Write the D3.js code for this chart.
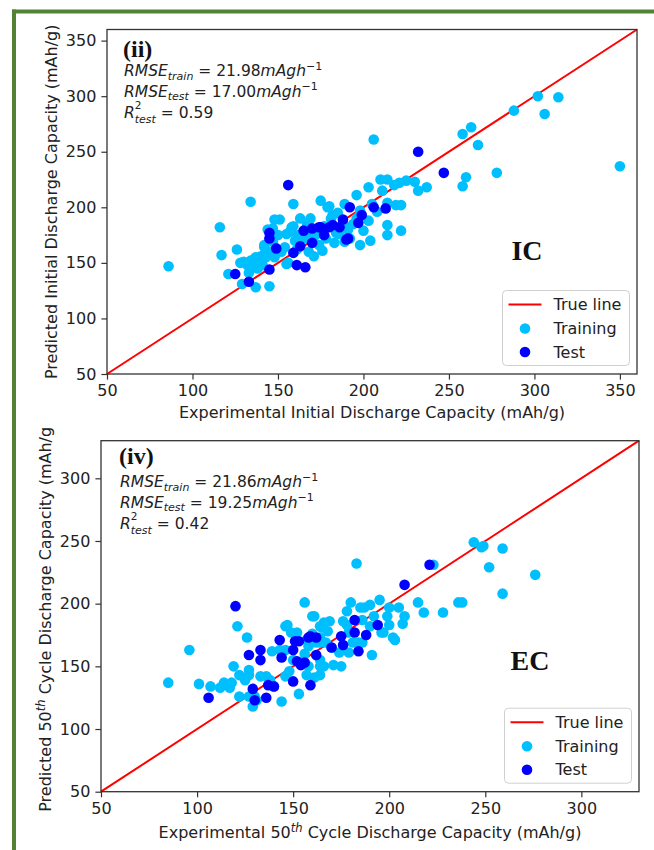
<!DOCTYPE html>
<html>
<head>
<meta charset="utf-8">
<script src="https://cdn.jsdelivr.net/npm/d3@7"></script>
<style>
  body { margin: 0; background: #fff; }
  svg { display: block; }
</style>
</head>
<body>
<div id="chart"></div>
<script>
// Datos: panel IC (capacidad inicial)
const icTrain = [
  [86,147],[116,182],[117,157],[121,140],[126,162],[129,131],[134,205],[137,128],[145,129],
  [130,151],[134,152],[137,155],[139,151],[135,146],[132,148],[141,148],[138,145],[143,155],
  [142,164],[144,180],[147,169],[148,189],[151,189],[147,181],[142,166],
  [159,203],[155,176],[154,164],[155,149],[158,182],[160,170],[157,178],[159,183],[156,150],
  [169,190],[179,200],[182,193],[174,166],[171,156],[176,161],[165,172],[168,160],[172,175],
  [167,185],[178,172],[183,168],[181,190],[186,176],[189,169],[185,195],[188,186],[191,180],
  [194,185],[198,166],[204,170],[203,188],[180,201],[175,206],[189,203],[196,211],[205,203],
  [214,204],[219,202],[222,202],[222,179],[214,184],[214,175],
  [206,261],[210,225],[214,225],[221,222],[225,224],[230,223],[211,215],[203,218],[232,215],
  [237,218],[218,220],
  [258,266],[263,272],[267,256],[278,231],[258,219],[260,227],[288,287],[302,300],[314,299],
  [306,284],[350,237],
  [163,190],[170,176],[161,162],[177,183],[184,177],[192,172],[196,190],[200,179],[208,196],
  [198,197],[162,175],[152,160],[148,155],[145,160],[140,156],[133,141],[128,150],[150,175]
];
const icTest = [
  [125,140],[133,133],[145,177],[145,172],[149,163],[145,144],[156,220],[159,159],[161,148],
  [166,146],[163,165],[165,179],[170,181],[175,182],[180,182],[170,168],[232,250],[247,231],
  [192,200],[199,193],[206,200],[213,199],[188,189],[182,184],[191,172],[177,175],[186,182],
  [190,171],[174,182],[197,186]
];

// Datos: panel EC (capacidad en el ciclo 50)
const ecTrain = [
  [85,137],[96,163],[101,136],[121,182],[126,173],[119,150],[127,147],[122,143],[127,143],
  [117,133],[112,133],[114,137],[107,134],[122,126],[127,126],[131,123],[129,118],[144,122],
  [143,163],[139,162],[136,142],[133,142],[138,139],[146,182],[149,177],[146,163],[148,146],
  [146,142],[156,201],[161,190],[164,182],[166,185],[164,169],[158,166],[158,150],[164,143],
  [161,141],[166,150],[164,155],[160,190],[147,183],[152,177],[157,171],[162,169],
  [180,201],[185,197],[190,199],[195,203],[200,197],[205,197],[208,190],[215,201],[218,193],
  [228,193],[236,201],[192,190],[186,187],[178,194],[169,186],[165,181],[164,173],[167,169],
  [197,177],[202,173],[179,177],[176,186],[191,159],[184,169],[179,161],[171,151],[164,150],
  [157,143],[183,232],[223,231],[244,249],[248,245],[249,246],[259,244],[252,229],[276,223],
  [259,208],[238,201],[207,184],[203,171],[196,177],[200,183],[199,190],[187,197],[174,161],
  [181,169],[186,169],[153,128],[140,134],[130,126],[125,139],[118,137],[150,155],[170,165],
  [175,150],[168,178],[178,183],[190,182],[156,160],[160,176]
];
const ecTest = [
  [106,125],[120,198],[127,159],[133,163],[133,155],[129,132],[130,123],[136,125],[137,135],
  [140,134],[143,171],[144,157],[150,163],[150,138],[152,154],[154,151],[159,135],[159,174],
  [162,173],[162,159],[151,170],[182,187],[182,177],[188,175],[194,183],[184,162],[176,167],
  [170,165],[158,173],[153,170],[156,153],[175,174],[221,231],[208,215]
];

// Ejes y textos
const icTicks = [50, 100, 150, 200, 250, 300, 350];
const ecTicks = [50, 100, 150, 200, 250, 300];
const icDomain = [50, 360];
const ecDomain = [50, 330];
const legendLabels = ["True line", "Training", "Test"];
const icStats = { tag: "(ii)", train: "21.98", test: "17.00", r2: "0.59", name: "IC" };
const ecStats = { tag: "(iv)", train: "21.86", test: "19.25", r2: "0.42", name: "EC" };

const width = 654;
const height = 850;
const colTrain = "#00bfff";
const colTest = "#0000ff";
const colText = "#222";
const fontSans = "DejaVu Sans, sans-serif";
const fontSerif = "Liberation Serif, Times New Roman, serif";

const svg = d3.select("#chart")
  .append("svg")
  .attr("width", width)
  .attr("height", height);

svg.append("rect").attr("width", width).attr("height", height).attr("fill", "#fff");

// escribe piezas de texto una detras de otra (texto matematico simple)
function mathText(g, x, y, pieces) {
  let cx = x;
  let stackW = 0;
  pieces.forEach(p => {
    const t = g.append("text")
      .attr("x", cx)
      .attr("y", y + (p.dy || 0))
      .attr("font-family", fontSans)
      .attr("font-size", p.size || 15.5)
      .attr("font-style", p.italic ? "italic" : "normal")
      .attr("fill", colText)
      .attr("xml:space", "preserve")
      .style("white-space", "pre")
      .text(p.t);
    const w = t.node().getComputedTextLength();
    if (p.stack) {
      stackW = w;
    } else {
      cx += Math.max(w, stackW);
      stackW = 0;
    }
  });
}

function drawPanel(cfg) {
  const g = svg.append("g");
  if (cfg.clipTop) {
    svg.append("clipPath").attr("id", "clip-" + cfg.stats.name)
      .append("rect").attr("x", 0).attr("y", cfg.clipTop).attr("width", width).attr("height", height - cfg.clipTop);
    g.attr("clip-path", `url(#clip-${cfg.stats.name})`);
  }

  const x = d3.scaleLinear().domain(cfg.domain).range([cfg.left, cfg.right]);
  const y = d3.scaleLinear().domain(cfg.domain).range([cfg.bottom, cfg.top]);

  // True line
  g.append("line")
    .attr("x1", x(cfg.domain[0])).attr("y1", y(cfg.domain[0]))
    .attr("x2", x(cfg.domain[1])).attr("y2", y(cfg.domain[1]))
    .attr("stroke", "red").attr("stroke-width", 2);

  g.append("g").selectAll("circle")
    .data(cfg.train)
    .enter().append("circle")
    .attr("cx", d => x(d[0])).attr("cy", d => y(d[1]))
    .attr("r", 5.3).attr("fill", colTrain);

  g.append("g").selectAll("circle")
    .data(cfg.test)
    .enter().append("circle")
    .attr("cx", d => x(d[0])).attr("cy", d => y(d[1]))
    .attr("r", 5.3).attr("fill", colTest);

  // marco del grafico
  g.append("rect")
    .attr("x", cfg.left).attr("y", cfg.top)
    .attr("width", cfg.right - cfg.left).attr("height", cfg.bottom - cfg.top)
    .attr("fill", "none").attr("stroke", "#333").attr("stroke-width", 1.3);

  const xAxis = g.append("g")
    .attr("transform", `translate(0,${cfg.bottom})`)
    .call(d3.axisBottom(x).tickValues(cfg.ticks).tickSize(5.6).tickPadding(5).tickSizeOuter(0));
  const yAxis = g.append("g")
    .attr("transform", `translate(${cfg.left},0)`)
    .call(d3.axisLeft(y).tickValues(cfg.ticks).tickSize(5.6).tickPadding(5).tickSizeOuter(0));
  [xAxis, yAxis].forEach(a => {
    a.select(".domain").remove();
    a.selectAll("line").attr("stroke", "#333").attr("stroke-width", 1.2);
    a.selectAll("text").attr("font-family", fontSans).attr("font-size", 16).attr("fill", colText);
  });

  // etiquetas de ejes
  const xl = g.append("text")
    .attr("x", (cfg.left + cfg.right) / 2).attr("y", cfg.xLabelY)
    .attr("text-anchor", "middle")
    .attr("font-family", fontSans).attr("font-size", 16).attr("fill", colText);
  cfg.xLabel.forEach(p => xl.append("tspan")
    .attr("font-size", p.sup ? 11.5 : 16)
    .attr("font-style", p.sup ? "italic" : "normal")
    .attr("dy", p.sup ? -6 : (p.after ? 6 : 0))
    .text(p.t));

  const yl = g.append("text")
    .attr("transform", `translate(${cfg.yLabelX},${(cfg.top + cfg.bottom) / 2}) rotate(-90)`)
    .attr("text-anchor", "middle")
    .attr("font-family", fontSans).attr("font-size", 16).attr("fill", colText);
  cfg.yLabel.forEach(p => yl.append("tspan")
    .attr("font-size", p.sup ? 11.5 : 16)
    .attr("font-style", p.sup ? "italic" : "normal")
    .attr("dy", p.sup ? -6 : (p.after ? 6 : 0))
    .text(p.t));

  // anotaciones
  g.append("text")
    .attr("x", cfg.left + cfg.tagDx).attr("y", cfg.top + cfg.tagDy)
    .attr("font-family", fontSerif).attr("font-weight", "bold").attr("font-size", 24).attr("fill", "#111")
    .text(cfg.stats.tag);

  const tx = cfg.left + cfg.tagDx + 1;
  mathText(g, tx, cfg.top + 46.5, [
    { t: "RMSE", italic: true },
    { t: "train", italic: true, size: 11, dy: 3.5 },
    { t: " = " + cfg.stats.train },
    { t: "mAgh", italic: true },
    { t: "\u22121", size: 11, dy: -6.5 }
  ]);
  mathText(g, tx, cfg.top + 67, [
    { t: "RMSE", italic: true },
    { t: "test", italic: true, size: 11, dy: 3.5 },
    { t: " = " + cfg.stats.test },
    { t: "mAgh", italic: true },
    { t: "\u22121", size: 11, dy: -6.5 }
  ]);
  mathText(g, tx, cfg.top + 88, [
    { t: "R", italic: true },
    { t: "2", size: 10.5, dy: -8.5, stack: true },
    { t: "test", italic: true, size: 11, dy: 5 },
    { t: " = " + cfg.stats.r2 }
  ]);

  g.append("text")
    .attr("x", cfg.nameX).attr("y", cfg.nameY)
    .attr("text-anchor", "middle")
    .attr("font-family", fontSerif).attr("font-weight", "bold").attr("font-size", 28).attr("fill", "#111")
    .text(cfg.stats.name);

  // leyenda
  const lw = 127, lh = 75;
  const lx = cfg.right - 7.5 - lw, ly = cfg.bottom - 8.5 - lh;
  const leg = g.append("g").attr("transform", `translate(${lx},${ly})`);
  leg.append("rect").attr("width", lw).attr("height", lh).attr("rx", 4)
    .attr("fill", "#fff").attr("fill-opacity", 0.8).attr("stroke", "#d0d0d0").attr("stroke-width", 1);
  const rows = [14, 38, 61.5];
  leg.append("line").attr("x1", 6).attr("x2", 39).attr("y1", rows[0]).attr("y2", rows[0])
    .attr("stroke", "red").attr("stroke-width", 2);
  leg.append("circle").attr("cx", 22.5).attr("cy", rows[1]).attr("r", 5.3).attr("fill", colTrain);
  leg.append("circle").attr("cx", 22.5).attr("cy", rows[2]).attr("r", 5.3).attr("fill", colTest);
  legendLabels.forEach((lab, i) => {
    leg.append("text").attr("x", 51).attr("y", rows[i]).attr("dy", "0.35em")
      .attr("font-family", fontSans).attr("font-size", 16).attr("fill", colText)
      .text(lab);
  });
}

drawPanel({
  left: 107, right: 637, top: 29.5, bottom: 374,
  domain: icDomain, ticks: icTicks, train: icTrain, test: icTest, stats: icStats,
  xLabel: [{ t: "Experimental Initial Discharge Capacity (mAh/g)" }],
  yLabel: [{ t: "Predicted Initial Discharge Capacity (mAh/g)" }],
  xLabelY: 418, yLabelX: 57,
  tagDx: 16, tagDy: 27,
  nameX: 527, nameY: 260
});

drawPanel({
  left: 101, right: 639, top: 440.7, bottom: 791.7,
  domain: ecDomain, ticks: ecTicks, train: ecTrain, test: ecTest, stats: ecStats,
  xLabel: [{ t: "Experimental 50" }, { t: "th", sup: true }, { t: " Cycle Discharge Capacity (mAh/g)", after: true }],
  yLabel: [{ t: "Predicted 50" }, { t: "th", sup: true }, { t: " Cycle Discharge Capacity (mAh/g)", after: true }],
  xLabelY: 838, yLabelX: 51,
  tagDx: 18, tagDy: 23.5,
  nameX: 530, nameY: 670,
  clipTop: 428
});

// marco verde
svg.append("line").attr("x1", 14).attr("x2", 14).attr("y1", 9.5).attr("y2", height)
  .attr("stroke", "#548235").attr("stroke-width", 4);
svg.append("line").attr("x1", 12).attr("x2", width).attr("y1", 11.5).attr("y2", 11.5)
  .attr("stroke", "#548235").attr("stroke-width", 4);
</script>
</body>
</html>
